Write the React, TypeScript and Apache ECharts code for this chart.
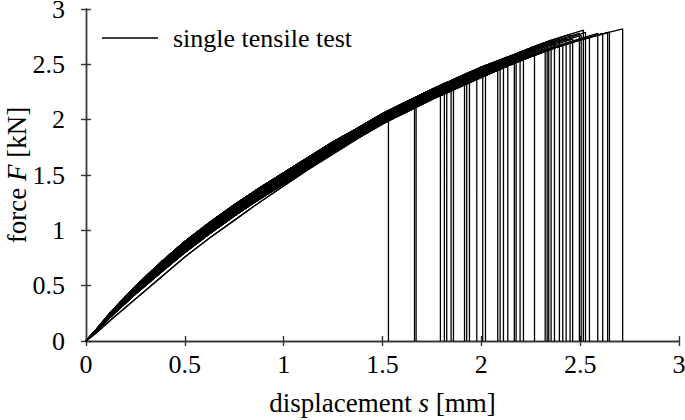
import React, { useEffect, useRef } from "react";
import * as echarts from "echarts";

// displacement grid (mm) at which the loading curves were read
const sGrid = [0, 0.05, 0.125, 0.25, 0.375, 0.5, 0.625, 0.75, 0.875, 1.0, 1.125, 1.25, 1.375, 1.5, 1.625, 1.75, 1.875, 2.0, 2.125, 2.25, 2.375, 2.5, 2.625, 2.75];
// force (kN) along curves across the bundle, from its upper edge (c1) to its lower edge (c7), plus the lowest thin curve (c8)
const c1 = [0, 0.1, 0.26, 0.495, 0.705, 0.9, 1.07, 1.23, 1.38, 1.52, 1.66, 1.8, 1.925, 2.055, 2.165, 2.275, 2.375, 2.475, 2.56, 2.65, 2.73, 2.8, 2.86, 2.91];
const c2 = [0, 0.097, 0.253, 0.483, 0.69, 0.883, 1.053, 1.213, 1.363, 1.503, 1.643, 1.783, 1.91, 2.04, 2.15, 2.26, 2.36, 2.46, 2.547, 2.637, 2.717, 2.787, 2.847, 2.897];
const c3 = [0, 0.093, 0.247, 0.472, 0.675, 0.867, 1.037, 1.197, 1.347, 1.487, 1.627, 1.767, 1.895, 2.025, 2.135, 2.245, 2.345, 2.445, 2.533, 2.623, 2.703, 2.773, 2.833, 2.883];
const c4 = [0, 0.09, 0.24, 0.46, 0.66, 0.85, 1.02, 1.18, 1.33, 1.47, 1.61, 1.75, 1.88, 2.01, 2.12, 2.23, 2.33, 2.43, 2.52, 2.61, 2.69, 2.76, 2.82, 2.87];
const c5 = [0, 0.087, 0.233, 0.448, 0.645, 0.833, 1.003, 1.163, 1.313, 1.453, 1.593, 1.733, 1.865, 1.995, 2.105, 2.215, 2.315, 2.415, 2.507, 2.597, 2.677, 2.747, 2.807, 2.857];
const c6 = [0, 0.083, 0.227, 0.437, 0.63, 0.817, 0.987, 1.147, 1.297, 1.437, 1.577, 1.717, 1.85, 1.98, 2.09, 2.2, 2.3, 2.4, 2.493, 2.583, 2.663, 2.733, 2.793, 2.843];
const c7 = [0, 0.08, 0.22, 0.425, 0.615, 0.8, 0.97, 1.13, 1.28, 1.42, 1.56, 1.7, 1.835, 1.965, 2.075, 2.185, 2.285, 2.385, 2.48, 2.57, 2.65, 2.72, 2.78, 2.83];
const c8 = [0, 0.07, 0.19, 0.38, 0.57, 0.76, 0.93, 1.09, 1.25, 1.4, 1.55, 1.69, 1.83, 1.96, 2.07, 2.18, 2.28, 2.38, 2.48, 2.57, 2.65, 2.72, 2.78, 2.83];

// failure displacement (mm) of each single tensile test
const failureS = [1.53, 1.662, 1.67, 1.793, 1.813, 1.825, 1.847, 1.859, 1.915, 1.926, 1.94, 1.977, 2.007, 2.021, 2.083, 2.095, 2.112, 2.134, 2.167, 2.176, 2.196, 2.213, 2.269, 2.323, 2.333, 2.341, 2.353, 2.37, 2.395, 2.412, 2.429, 2.449, 2.462, 2.496, 2.505, 2.516, 2.527, 2.547, 2.589, 2.614, 2.639, 2.648, 2.715];
// peak force (kN) reached at failure
const peakF = [1.99, 2.14, 2.19, 2.26, 2.33, 2.26, 2.32, 2.27, 2.39, 2.36, 2.43, 2.41, 2.45, 2.42, 2.53, 2.46, 2.54, 2.51, 2.56, 2.56, 2.61, 2.56, 2.65, 2.64, 2.68, 2.63, 2.72, 2.69, 2.73, 2.68, 2.73, 2.77, 2.73, 2.78, 2.76, 2.81, 2.79, 2.74, 2.78, 2.78, 2.79, 2.79, 2.82];
// which curve each test follows (index into curves)
const curveOf = [7, 4, 1, 3, 0, 5, 2, 6, 1, 4, 0, 3, 2, 5, 0, 6, 1, 4, 2, 3, 0, 5, 1, 4, 2, 6, 0, 3, 1, 5, 2, 0, 4, 1, 3, 0, 2, 6, 5, 6, 7, 6, 6];

const xTicks = [0, 0.5, 1, 1.5, 2, 2.5, 3];
const yTicks = [0, 0.5, 1, 1.5, 2, 2.5, 3];

const curves = [c1, c2, c3, c4, c5, c6, c7, c8];

export default function App() {
  const ref = useRef<HTMLDivElement>(null);
  useEffect(() => {
    if (!ref.current) return;
    const chart = echarts.init(ref.current, undefined, { renderer: "svg" });
    const font = "Liberation Serif";
    const axisColor = "#333";
    const fs = 26;
    const fsName = 27;

    const series = failureS.map((sf, i) => {
      const c = curves[curveOf[i]];
      const data: number[][] = [];
      for (let k = 0; k < sGrid.length; k++) {
        if (sGrid[k] < sf) data.push([sGrid[k], c[k]]);
      }
      data.push([sf, peakF[i]]);
      data.push([sf, 0]);
      return {
        name: "single tensile test",
        type: "line",
        xAxisIndex: 0,
        yAxisIndex: 0,
        symbol: "none",
        data,
        lineStyle: { color: "#000", width: 1.3 },
        itemStyle: { color: "#000" },
        emphasis: { disabled: true },
      };
    });

    const xMin = xTicks[0];
    const xMax = xTicks[xTicks.length - 1];
    const yMin = yTicks[0];
    const yMax = yTicks[yTicks.length - 1];

    const baseAxis = {
      axisLine: { show: true, lineStyle: { color: axisColor, width: 1.4 } },
      axisTick: { show: true, inside: false, length: 5, lineStyle: { color: axisColor, width: 1.4 } },
      splitLine: { show: false },
    };
    const rich = { i: { fontFamily: font, fontSize: fsName, fontStyle: "italic", color: "#000" } };

    chart.setOption({
      animation: false,
      backgroundColor: "#fff",
      grid: { left: 86, right: 6, top: 9, bottom: 79, containLabel: false, outerBoundsMode: "none" },
      legend: {
        show: true,
        left: 97,
        top: 20,
        itemWidth: 56,
        itemHeight: 1.4,
        icon: "rect",
        textStyle: { fontFamily: font, fontSize: fs, color: "#000", padding: [0, 0, 0, 10] },
        data: [{ name: "single tensile test", itemStyle: { color: "#000" } }],
      },
      xAxis: [
        {
          type: "value",
          min: xMin,
          max: xMax,
          interval: 0.5,
          position: "bottom",
          ...baseAxis,
          axisLabel: { fontFamily: font, fontSize: fs, color: "#000", margin: 10 },
          name: "displacement {i|s} [mm]",
          nameLocation: "middle",
          nameGap: 48,
          nameMoveOverlap: false,
          nameTextStyle: { fontFamily: font, fontSize: fsName, color: "#000", rich },
        },
        {
          type: "value",
          min: xMin,
          max: xMax,
          interval: 0.5,
          position: "top",
          ...baseAxis,
          axisLabel: { show: false },
        },
      ],
      yAxis: [
        {
          type: "value",
          min: yMin,
          max: yMax,
          interval: 0.5,
          position: "left",
          ...baseAxis,
          axisLabel: { fontFamily: font, fontSize: fs, color: "#000", margin: 21, padding: [4, 0, 0, 0] },
          name: "force {i|F} [kN]",
          nameLocation: "middle",
          nameGap: 56,
          nameMoveOverlap: false,
          nameTextStyle: { fontFamily: font, fontSize: fsName, color: "#000", rich },
        },
        {
          type: "value",
          min: yMin,
          max: yMax,
          interval: 0.5,
          position: "right",
          ...baseAxis,
          axisLabel: { show: false },
        },
      ],
      series,
    });
    return () => chart.dispose();
  }, []);
  return <div ref={ref} style={{ width: 685, height: 420, position: "absolute", left: 0, top: 0 }} />;
}
